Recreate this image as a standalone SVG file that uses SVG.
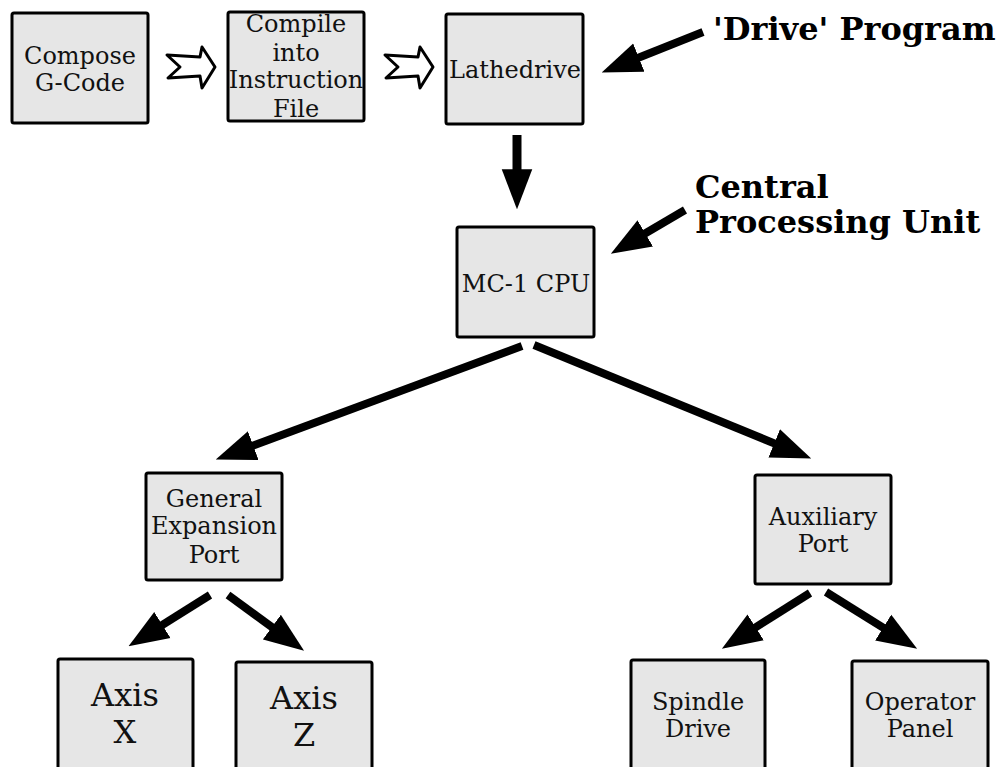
<svg xmlns="http://www.w3.org/2000/svg" width="997" height="767" viewBox="0 0 997 767">
  <style>
    .box { fill: #e6e6e6; stroke: #000; stroke-width: 3; }
    .lbl { font-family: "DejaVu Serif", serif; font-size: 24px; fill: #111; text-anchor: middle; }
    .big { font-family: "DejaVu Serif", serif; font-size: 32px; fill: #111; text-anchor: middle; }
    .note { font-family: "DejaVu Serif", serif; font-size: 32px; font-weight: bold; fill: #000; }
    .wire { stroke: #000; stroke-width: 8; fill: none; marker-end: url(#head); }
    .step { fill: #fff; stroke: #000; stroke-width: 3; stroke-linejoin: round; }
  </style>
  <defs>
    <marker id="head" markerUnits="userSpaceOnUse" markerWidth="40" markerHeight="32" viewBox="0 0 38 29" refX="12" refY="14.5" orient="auto">
      <path d="M0,0 L38,14.5 L0,29 z" fill="#000"/>
    </marker>
  </defs>

  <!-- processing steps -->
  <g id="compose">
    <rect class="box" x="12" y="13" width="136" height="110" rx="2"/>
    <text class="lbl" x="80" y="64">Compose</text>
    <text class="lbl" x="80" y="91">G-Code</text>
  </g>
  <g id="compile">
    <rect class="box" x="228" y="12" width="136" height="109" rx="2"/>
    <text class="lbl" x="296" y="32">Compile</text>
    <text class="lbl" x="296" y="61">into</text>
    <text class="lbl" x="296" y="88">Instruction</text>
    <text class="lbl" x="296" y="117">File</text>
  </g>
  <g id="lathedrive">
    <rect class="box" x="446" y="14" width="137" height="110" rx="2"/>
    <text class="lbl" x="515" y="78">Lathedrive</text>
  </g>
  <g id="cpu">
    <rect class="box" x="457" y="227" width="137" height="110" rx="2"/>
    <text class="lbl" x="526" y="292">MC-1 CPU</text>
  </g>
  <g id="gep">
    <rect class="box" x="146" y="473" width="136" height="107" rx="2"/>
    <text class="lbl" x="214" y="507">General</text>
    <text class="lbl" x="214" y="534">Expansion</text>
    <text class="lbl" x="214" y="563">Port</text>
  </g>
  <g id="aux">
    <rect class="box" x="755" y="475" width="136" height="109" rx="2"/>
    <text class="lbl" x="823" y="525">Auxiliary</text>
    <text class="lbl" x="823" y="552">Port</text>
  </g>
  <g id="axis-x">
    <rect class="box" x="58" y="659" width="135" height="120" rx="2"/>
    <text class="big" x="125" y="706">Axis</text>
    <text class="big" x="125" y="743">X</text>
  </g>
  <g id="axis-z">
    <rect class="box" x="236" y="662" width="136" height="120" rx="2"/>
    <text class="big" x="304" y="709">Axis</text>
    <text class="big" x="304" y="746">Z</text>
  </g>
  <g id="spindle">
    <rect class="box" x="631" y="660" width="134" height="120" rx="2"/>
    <text class="lbl" x="698" y="710">Spindle</text>
    <text class="lbl" x="698" y="737">Drive</text>
  </g>
  <g id="operator">
    <rect class="box" x="852" y="661" width="136" height="120" rx="2"/>
    <text class="lbl" x="920" y="710">Operator</text>
    <text class="lbl" x="920" y="737">Panel</text>
  </g>

  <!-- annotations -->
  <g id="note-drive">
    <text class="note" x="713" y="40">'Drive' Program</text>
  </g>
  <g id="note-cpu">
    <text class="note" x="695" y="198">Central</text>
    <text class="note" x="695" y="233">Processing Unit</text>
  </g>

  <!-- connectors -->
  <g id="connectors">
    <path class="step" d="M167,55 L200,57 L202,47 L215,67 L202,88 L200,76 L168,78 L180,67 z"/>
    <path class="step" d="M385,55 L418,57 L420,47 L433,67 L420,88 L418,76 L386,78 L398,67 z"/>
    <line class="wire" x1="703" y1="32" x2="627.1" y2="62.3"/>
    <line class="wire" x1="685" y1="210" x2="634.4" y2="239.8"/>
    <line class="wire" x1="517" y1="135" x2="517" y2="182" style="stroke-width:9"/>
    <line class="wire" x1="522" y1="346" x2="241.4" y2="450"/>
    <line class="wire" x1="534" y1="345" x2="785.9" y2="448.1"/>
    <line class="wire" x1="210" y1="595" x2="151.7" y2="631.7"/>
    <line class="wire" x1="228" y1="595" x2="282" y2="634.6"/>
    <line class="wire" x1="810" y1="593" x2="745" y2="634.1"/>
    <line class="wire" x1="826" y1="592" x2="893.9" y2="634.3"/>
  </g>
</svg>
